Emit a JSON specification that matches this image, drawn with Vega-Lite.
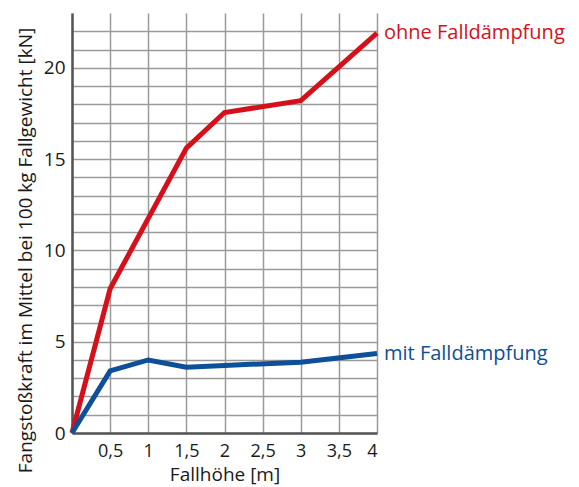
{
  "$schema": "https://vega.github.io/schema/vega-lite/v6.json",
  "width": 305,
  "height": 420,
  "autosize": {"type": "none"},
  "padding": {"left": 72, "top": 13, "right": 202, "bottom": 54},
  "background": "white",
  "config": {
    "font": "Open Sans",
    "view": {"stroke": null}
  },
  "data": {
    "values": [
      {"h": 0, "kN": 0, "serie": "ohne Falldämpfung"},
      {"h": 0.5, "kN": 7.9, "serie": "ohne Falldämpfung"},
      {"h": 1.5, "kN": 15.6, "serie": "ohne Falldämpfung"},
      {"h": 2, "kN": 17.55, "serie": "ohne Falldämpfung"},
      {"h": 3, "kN": 18.2, "serie": "ohne Falldämpfung"},
      {"h": 4, "kN": 21.9, "serie": "ohne Falldämpfung"},
      {"h": 0, "kN": 0, "serie": "mit Falldämpfung"},
      {"h": 0.5, "kN": 3.4, "serie": "mit Falldämpfung"},
      {"h": 1, "kN": 4.0, "serie": "mit Falldämpfung"},
      {"h": 1.5, "kN": 3.6, "serie": "mit Falldämpfung"},
      {"h": 2, "kN": 3.7, "serie": "mit Falldämpfung"},
      {"h": 3, "kN": 3.88, "serie": "mit Falldämpfung"},
      {"h": 4, "kN": 4.35, "serie": "mit Falldämpfung"}
    ]
  },
  "encoding": {
    "x": {
      "field": "h",
      "type": "quantitative",
      "scale": {"domain": [0, 4], "nice": false},
      "axis": {
        "title": "Fallhöhe [m]",
        "values": [0, 0.5, 1, 1.5, 2, 2.5, 3, 3.5, 4],
        "labelExpr": "datum.value === 0 ? '' : replace(format(datum.value, '~g'), '.', ',')",
        "grid": true,
        "gridColor": "#9a9a9a",
        "gridWidth": 1.5,
        "gridOpacity": 1,
        "domainColor": "#555555",
        "domainWidth": 2.5,
        "ticks": false,
        "labelFontSize": 18,
        "labelColor": "#1a1a1a",
        "labelPadding": 9,
        "labelOverlap": false,
        "titleFontSize": 19,
        "titleFontWeight": "normal",
        "titleColor": "#1a1a1a",
        "titlePadding": 5
      }
    },
    "y": {
      "field": "kN",
      "type": "quantitative",
      "scale": {"domain": [0, 23], "nice": false},
      "axis": {
        "title": "Fangstoßkraft im Mittel bei 100 kg Fallgewicht [kN]",
        "values": [0, 1, 2, 3, 4, 5, 6, 7, 8, 9, 10, 11, 12, 13, 14, 15, 16, 17, 18, 19, 20, 21, 22],
        "labelExpr": "datum.value % 5 === 0 ? datum.label : ''",
        "grid": true,
        "gridColor": "#9a9a9a",
        "gridWidth": 1.5,
        "gridOpacity": 1,
        "domainColor": "#555555",
        "domainWidth": 2.5,
        "ticks": false,
        "labelFontSize": 19,
        "labelColor": "#1a1a1a",
        "labelPadding": 7,
        "titleFontSize": 19,
        "titleFontWeight": "normal",
        "titleColor": "#1a1a1a",
        "titleX": -47,
        "titleY": 237,
        "titleBaseline": "middle",
        "titleAlign": "center"
      }
    },
    "color": {
      "field": "serie",
      "type": "nominal",
      "scale": {"domain": ["ohne Falldämpfung", "mit Falldämpfung"], "range": ["#d5101b", "#0d4f98"]},
      "legend": null
    }
  },
  "layer": [
    {
      "mark": {"type": "line", "strokeWidth": 5, "strokeJoin": "miter", "clip": false}
    },
    {
      "transform": [{"filter": "datum.h === 4"}],
      "mark": {"type": "text", "align": "left", "baseline": "middle", "dx": 7, "fontSize": 20},
      "encoding": {"text": {"field": "serie"}}
    }
  ]
}
